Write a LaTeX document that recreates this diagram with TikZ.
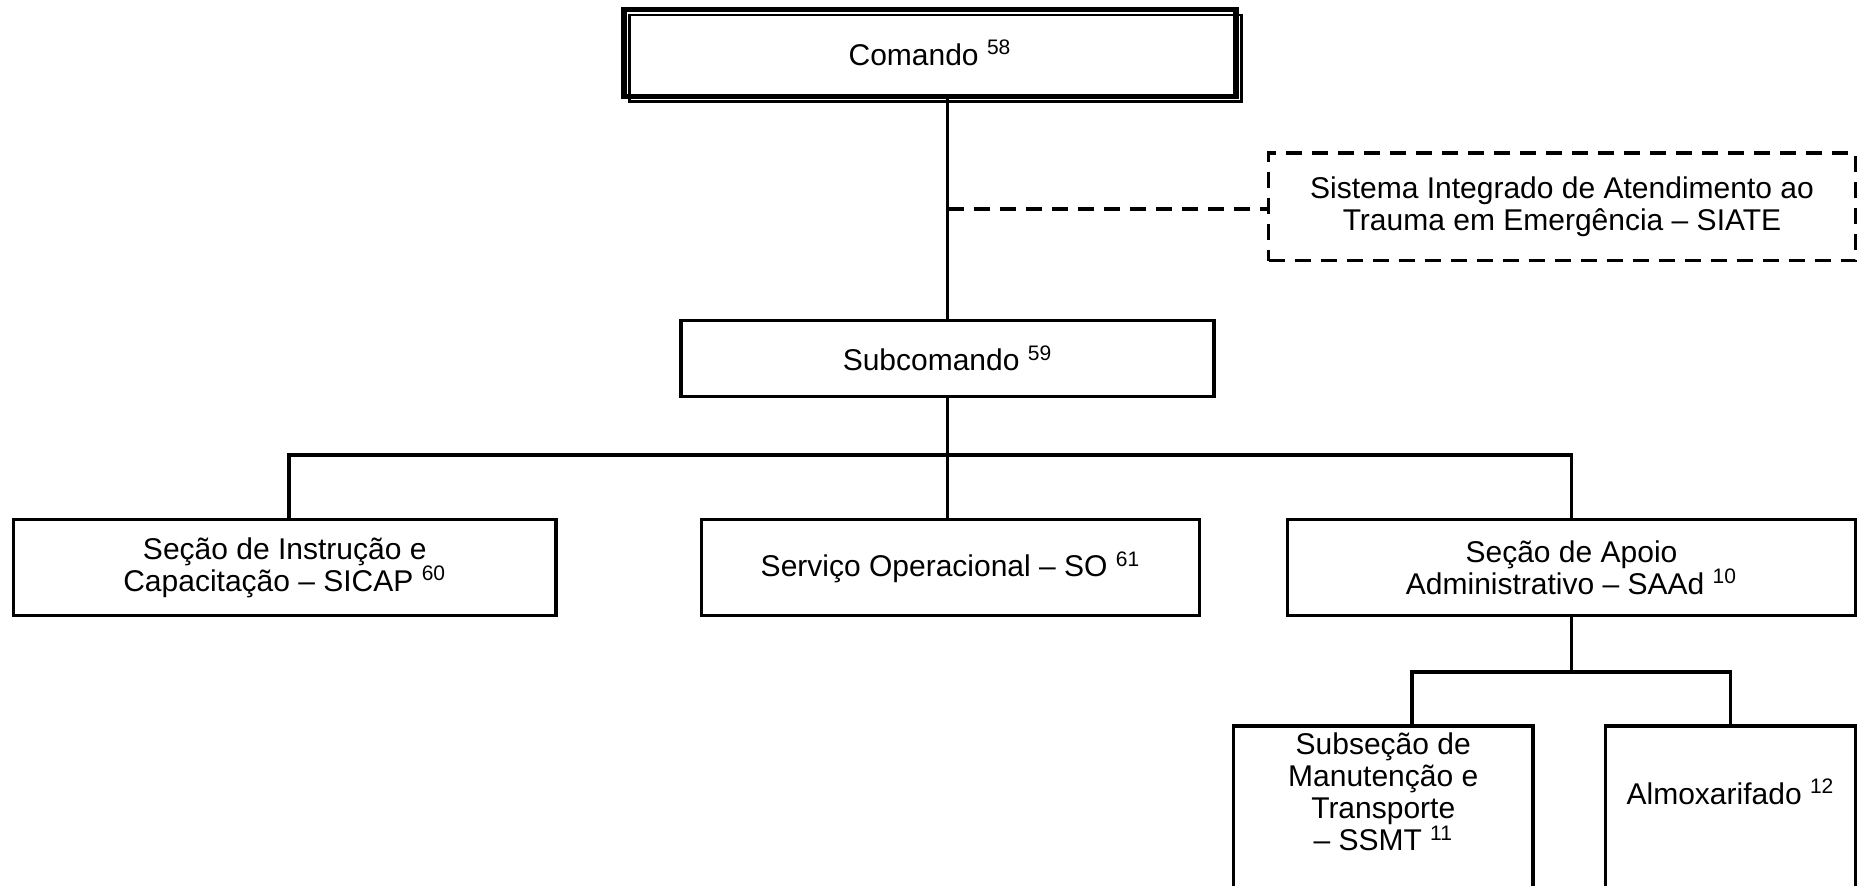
\documentclass[tikz,border=0pt]{standalone}
\usepackage{fontspec}
\setmainfont{Liberation Sans}
\newcommand{\fnum}[1]{\textsuperscript{#1}}
\begin{document}
\begin{tikzpicture}[x=0.5pt,y=-0.5pt,
  orgbox/.style={draw, line width=1.85pt, inner sep=0pt, align=center,
    font=\fontsize{15}{16}\selectfont},
  orgtext/.style={inner sep=0pt, align=center, font=\fontsize{15}{16}\selectfont},
  conn/.style={line width=1.85pt},
  dashed line/.style={line width=1.85pt, dash pattern=on 8pt off 5pt}]
\useasboundingbox (0,0) rectangle (1864,885);

% top of the chart: command with thick-thin frame
\node[orgbox, line width=2.6pt, minimum width=306pt, minimum height=43.5pt]
  (comando) at (930,53) {Comando \fnum{58}};
\draw[line width=1.1pt] ([shift={(-300.5,-38)}]comando.center)
  rectangle ([shift={(311.5,48.5)}]comando.center);

% attached emergency system (dashed)
\node[orgbox, dashed line, minimum width=293.5pt, minimum height=53.75pt]
  (siate) at (1562,206.75) {Sistema Integrado de Atendimento ao\\Trauma em Emergência – SIATE};

\node[orgbox, minimum width=266.5pt, minimum height=38pt]
  (sub) at (947.5,358.5) {Subcomando \fnum{59}};

% sections
\node[orgbox, minimum width=271.25pt, minimum height=48pt]
  (sicap) at (284.75,567.5) {Seção de Instrução e\\Capacitação – SICAP \fnum{60}};
\node[orgbox, minimum width=249pt, minimum height=48pt]
  (so) at (950.5,567.5) {Serviço Operacional – SO \fnum{61}};
\node[orgbox, minimum width=284pt, minimum height=48pt]
  (saad) at (1571.5,567.5) {Seção de Apoio\\Administrativo – SAAd \fnum{10}};

% subsections, running off the lower edge
\begin{scope}
\clip (0,0) rectangle (1864,885);
\node[orgbox, anchor=north, minimum width=149.75pt, minimum height=150pt]
  (ssmt) at (1383.25,724) {};
\node[orgbox, anchor=north, minimum width=125pt, minimum height=150pt]
  (almox) at (1730.5,724) {};
\end{scope}
\node[orgtext] (ssmtt) at (1383.25,792) {Subseção de\\Manutenção e\\Transporte\\– SSMT \fnum{11}};
\node[orgtext] (almoxt) at (1730.5,792) {Almoxarifado \fnum{12}};

% connectors
\coordinate (busL) at (289,455);
\coordinate (busR) at (1571.5,455);
\coordinate (siatejoin) at (1268,209);
\coordinate (sbusL) at (1412,672);
\coordinate (sbusR) at (1730.5,672);

\draw[conn] (comando.south -| sub.north) -- (sub.north);
\draw[dashed line] (siatejoin -| sub.north) -- (siate.west |- siatejoin);
\draw[conn] (sub.south) -- (sub.south |- so.north);
\draw[conn] (busL |- sicap.north) -- (busL) -- (busR) -- (busR |- saad.north);
\draw[conn] (saad.south) -- (saad.south |- sbusR);
\draw[conn] (sbusL |- ssmt.north) -- (sbusL) -- (sbusR) -- (almox.north);
\end{tikzpicture}
\end{document}
